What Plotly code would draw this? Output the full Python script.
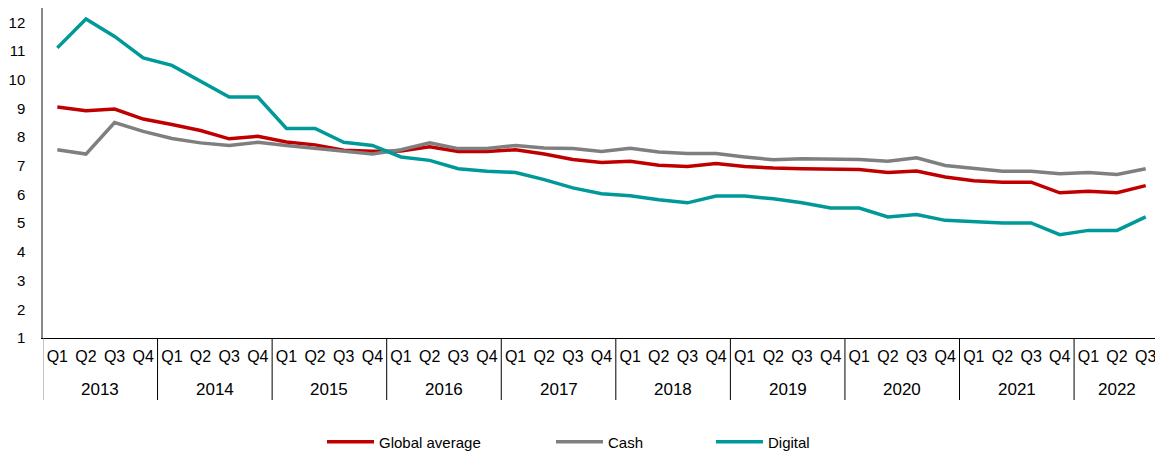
import plotly.graph_objects as go

years = ["2013"] * 4 + ["2014"] * 4 + ["2015"] * 4 + ["2016"] * 4 + ["2017"] * 4 + \
        ["2018"] * 4 + ["2019"] * 4 + ["2020"] * 4 + ["2021"] * 4 + ["2022"] * 3
quarters = (["Q1", "Q2", "Q3", "Q4"] * 10)[:39]

global_average = [9.05, 8.92, 8.98, 8.63, 8.44, 8.23, 7.94, 8.03, 7.83, 7.73, 7.54, 7.51,
                  7.52, 7.66, 7.50, 7.50, 7.56, 7.41, 7.22, 7.12, 7.16, 7.02, 6.98, 7.08,
                  6.98, 6.92, 6.90, 6.90, 6.87, 6.77, 6.82, 6.61, 6.48, 6.43, 6.43, 6.06,
                  6.11, 6.06, 6.31]
cash = [7.56, 7.41, 8.51, 8.20, 7.95, 7.80, 7.71, 7.82, 7.71, 7.62, 7.51, 7.41,
        7.56, 7.80, 7.60, 7.60, 7.71, 7.62, 7.60, 7.50, 7.61, 7.48, 7.43, 7.43,
        7.31, 7.21, 7.25, 7.25, 7.22, 7.16, 7.28, 7.01, 6.90, 6.81, 6.81, 6.72,
        6.77, 6.70, 6.90]
digital = [11.11, 12.12, 11.51, 10.76, 10.50, 9.94, 9.40, 9.40, 8.30, 8.30, 7.82, 7.71,
           7.31, 7.19, 6.90, 6.81, 6.77, 6.52, 6.23, 6.03, 5.96, 5.82, 5.71, 5.95,
           5.95, 5.85, 5.71, 5.53, 5.53, 5.22, 5.30, 5.10, 5.06, 5.01, 5.01, 4.60,
           4.75, 4.75, 5.22]

series_names = ["Global average", "Cash", "Digital"]
series_colors = ["#C00000", "#7F7F7F", "#009999"]

categories = [f"{y} {q}" for y, q in zip(years, quarters)]
n = len(categories)

# page has an 8px body margin, so the figure is sized to fit the window
OFF = 8
W, H = 1163 - OFF, 453 - OFF
ML, MR, MT, MB = 43 - OFF, 3, 0, 115
PH = H - MT - MB
PLOT_BOTTOM_PAGE = OFF + MT + PH
FONT = "Liberation Sans, Arial, sans-serif"

fig = go.Figure()
for i, (name, vals, col) in enumerate(zip(series_names, [global_average, cash, digital], series_colors)):
    lg = "legend" if i == 0 else f"legend{i+1}"
    fig.add_trace(go.Scatter(
        x=categories, y=vals, name=name, mode="lines",
        line=dict(color=col, width=3.5), legend=lg,
    ))

# year groups: dividers and labels
unique_years = []
for y in years:
    if y not in unique_years:
        unique_years.append(y)
shapes = []
annotations = []
div_bottom = -(400 - PLOT_BOTTOM_PAGE) / PH
year_label_y = -(390 - PLOT_BOTTOM_PAGE) / PH
start = 0
for yv in unique_years:
    cnt = years.count(yv)
    end = start + cnt
    annotations.append(dict(
        x=(start + end - 1) / 2, y=year_label_y, xref="x", yref="paper",
        text=yv, showarrow=False, xanchor="center", yanchor="middle",
        font=dict(family=FONT, size=17, color="#000000"),
    ))
    shapes.append(dict(
        type="line", xref="x", yref="paper", x0=start - 0.5, x1=start - 0.5,
        y0=0, y1=div_bottom,
        line=dict(color="#898989" if start == 0 else "#000000", width=1),
    ))
    start = end
shapes.append(dict(
    type="line", xref="x", yref="paper", x0=n - 0.5, x1=n - 0.5,
    y0=0, y1=div_bottom, line=dict(color="#000000", width=1),
))

legend_x = [327, 556, 716]
layout_legends = {}
for i, lx in enumerate(legend_x):
    key = "legend" if i == 0 else f"legend{i+1}"
    layout_legends[key] = dict(
        xref="container", yref="container", x=(lx - 13) / W, y=11 / H,
        xanchor="left", yanchor="middle", orientation="h",
        font=dict(family=FONT, size=15, color="#000000"),
        bgcolor="rgba(0,0,0,0)", borderwidth=0, itemwidth=47,
    )

fig.update_layout(
    width=W, height=H,
    margin=dict(l=ML, r=MR, t=MT, b=MB, autoexpand=False),
    paper_bgcolor="white", plot_bgcolor="white",
    font=dict(family=FONT, size=15, color="#000000"),
    showlegend=True,
    shapes=shapes,
    annotations=annotations,
    **layout_legends,
)
fig.update_yaxes(
    range=[1, 12.5], dtick=1, showgrid=False, zeroline=False,
    showline=True, linecolor="#898989", linewidth=1.5,
    ticks="", ticklabelstandoff=13,
    tickfont=dict(family=FONT, size=15),
)
fig.update_xaxes(
    type="category", range=[-0.5, n - 0.5],
    tickvals=categories, ticktext=quarters,
    showgrid=False, zeroline=False,
    showline=True, linecolor="#000000", linewidth=1,
    ticks="outside", ticklen=4, tickcolor="rgba(0,0,0,0)",
    tickfont=dict(family=FONT, size=16), tickangle=0,
)

fig.write_html("out.html")
